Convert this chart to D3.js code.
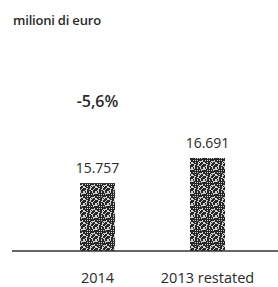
<!DOCTYPE html>
<html>
<head>
<meta charset="utf-8">
<script src="https://cdn.jsdelivr.net/npm/d3@7"></script>
<style>
  body { margin: 0; background: #fff; }
  svg text { font-family: "Open Sans", "DejaVu Sans", sans-serif; fill: #2a2a2a; }
</style>
</head>
<body>
<svg id="canvas" width="278" height="287"></svg>
<script>
// Chart data
const categories = ['2014', '2013 restated'];
const values = [15757, 16691];
const valueLabels = ['15.757', '16.691'];
const changeLabel = '-5,6%';
const unitLabel = 'milioni di euro';

const svg = d3.select('#canvas');

// the original axis does not start at zero
const x = d3.scaleBand().domain(categories).range([80, 225]).paddingInner(0.682).paddingOuter(0);
const y = d3.scaleLinear().domain([13230, 16691]).range([251, 158]);

// dithered fill like the scanned bars
const defs = svg.append('defs');
const pat = defs.append('pattern')
    .attr('id', 'dither')
    .attr('patternUnits', 'userSpaceOnUse')
    .attr('width', 12).attr('height', 12);
pat.append('rect').attr('width', 12).attr('height', 12).attr('fill', '#262626');
for (let i = 0; i < 12; i++) {
    for (let j = 0; j < 12; j++) {
        let h = (i * 7 + j * 13 + i * j * 5) % 11;
        if (h < 4) {
            pat.append('rect').attr('x', i).attr('y', j).attr('width', 1).attr('height', 1).attr('fill', '#cfcfcf');
        }
    }
}

svg.append('text')
    .attr('x', 13).attr('y', 25)
    .style('font-size', '13px')
    .style('font-weight', 600)
    .style('letter-spacing', '-0.2px')
    .text(unitLabel);

svg.selectAll('rect.bar')
    .data(values)
    .join('rect')
    .attr('class', 'bar')
    .attr('x', (d, i) => x(categories[i]))
    .attr('width', x.bandwidth())
    .attr('y', d => y(d))
    .attr('height', d => y.range()[0] - y(d))
    .style('fill', 'url(#dither)');

svg.append('line')
    .attr('x1', 12).attr('x2', 278)
    .attr('y1', 251).attr('y2', 251)
    .style('stroke', '#333')
    .style('stroke-width', 1.4);

svg.selectAll('text.val')
    .data(values)
    .join('text')
    .attr('class', 'val')
    .attr('x', (d, i) => x(categories[i]) + x.bandwidth() / 2)
    .attr('y', d => y(d) - 10)
    .attr('text-anchor', 'middle')
    .style('font-size', '14px')
    .text((d, i) => valueLabels[i]);

svg.append('text')
    .attr('x', x(categories[0]) + x.bandwidth() / 2)
    .attr('y', 107)
    .attr('text-anchor', 'middle')
    .style('font-size', '16px')
    .style('font-weight', 600)
    .text(changeLabel);

svg.selectAll('text.cat')
    .data(categories)
    .join('text')
    .attr('class', 'cat')
    .attr('x', d => x(d) + x.bandwidth() / 2)
    .attr('y', 283)
    .attr('text-anchor', 'middle')
    .style('font-size', '14.5px')
    .text(d => d);
</script>
</body>
</html>
